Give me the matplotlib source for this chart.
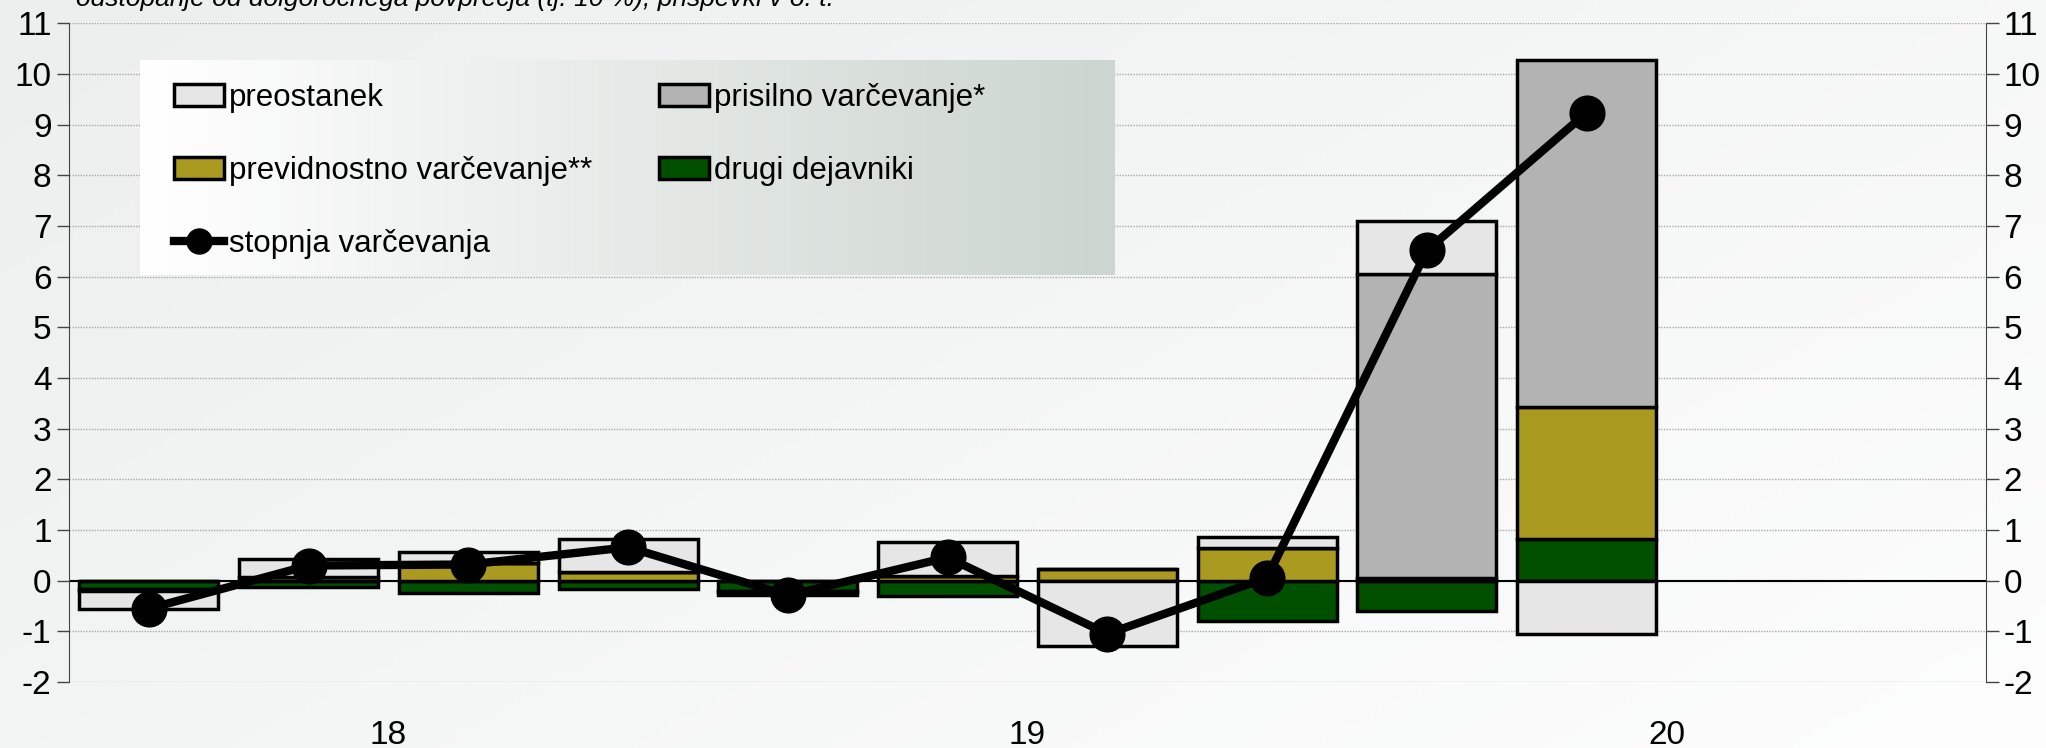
import matplotlib.pyplot as plt
import numpy as np
from matplotlib.colors import LinearSegmentedColormap
from matplotlib.lines import Line2D
from matplotlib.patches import Patch

plt.rcParams["font.family"] = ["Liberation Sans", "DejaVu Sans"]
plt.rcParams["axes.unicode_minus"] = False

# quarterly slots 2018Q1 .. 2020Q4, only first ten filled
slots = ["18Q1", "18Q2", "18Q3", "18Q4", "19Q1", "19Q2", "19Q3", "19Q4",
         "20Q1", "20Q2", "20Q3", "20Q4"]
years = ["18", "19", "20"]

drugi = [-0.17, -0.12, -0.25, -0.16, -0.20, -0.31, 0.0, -0.80, -0.60, 0.82]
previdnostno = [-0.03, 0.07, 0.34, 0.18, -0.03, 0.10, 0.23, 0.64, 0.05, 2.60]
prisilno = [0, 0, 0, 0, 0, 0, 0, 0, 6.00, 6.85]
preostanek = [-0.35, 0.35, 0.23, 0.64, -0.06, 0.67, -1.28, 0.22, 1.05, -1.05]
stopnja = [-0.55, 0.30, 0.32, 0.66, -0.29, 0.46, -1.05, 0.06, 6.52, 9.24]

title = "odstopanje od dolgoročnega povprečja (tj. 10 %), prispevki v o. t."

fig = plt.figure(figsize=(20.46, 7.48), dpi=100)

# background gradient over whole figure
bg = fig.add_axes([0, 0, 1, 1], zorder=-10)
gx, gy = np.meshgrid(np.linspace(0, 1, 300), np.linspace(0, 1, 120))
bg.imshow(gx * 0.6 + gy * 0.4, aspect="auto", extent=[0, 1, 0, 1],
          cmap=LinearSegmentedColormap.from_list("bg", ["#ecefee", "#fdfdfd"]))
bg.axis("off")

ax = fig.add_axes([0.0337, 0.0882, 0.937, 0.8804])
ax.set_facecolor("none")

x = np.arange(len(drugi))
series = [(drugi, "#005000"), (previdnostno, "#aa9a20"),
          (prisilno, "#b3b3b3"), (preostanek, "#e6e6e6")]
pos_base = np.zeros(len(x))
neg_base = np.zeros(len(x))
for vals, col in series:
    v = np.array(vals, dtype=float)
    bottom = np.where(v >= 0, pos_base, neg_base)
    ax.bar(x, v, bottom=bottom, width=0.87, color=col, edgecolor="black",
           linewidth=2.5, zorder=3)
    pos_base += np.clip(v, 0, None)
    neg_base += np.clip(v, None, 0)

ax.plot(x, stopnja, color="black", lw=6, marker="o", markersize=25, zorder=5)

ax.axhline(0, color="black", lw=1.5, zorder=2)
ax.set_xlim(-0.5, len(slots) - 0.5)
ax.set_ylim(-2, 11)
ax.set_yticks(range(-2, 12))
ax.yaxis.grid(True, linestyle=(0, (1, 1)), color="#a8a8a8", lw=1)
ax.set_axisbelow(True)
ax.set_xticks([1.5, 5.5, 9.5])
ax.set_xticklabels(years)
ax.tick_params(axis="x", length=0, pad=27, labelsize=24)
ax.tick_params(axis="y", direction="out", length=9, width=1, labelsize=24,
               right=True, labelright=True, color="#444444")
for s in ["top", "bottom"]:
    ax.spines[s].set_visible(False)
for s in ["left", "right"]:
    ax.spines[s].set_color("#444444")

# title sits half cut at the top edge, as in the source
fig.text(0.037, 1.002, title, style="italic", fontsize=19, va="center",
         ha="left")

# legend panel with its own gradient
lax = fig.add_axes([140 / 2046, 1 - 275 / 748, 975 / 2046, 215 / 748], zorder=5)
lgx = np.linspace(0, 1, 300)[None, :].repeat(10, axis=0)
lax.imshow(lgx, aspect="auto", extent=[0, 1, 0, 1],
           cmap=LinearSegmentedColormap.from_list("lg", ["#ffffff", "#ccd5d0"]))
lax.set_xlim(0, 1)
lax.set_ylim(0, 1)
lax.axis("off")

handles = [
    Patch(facecolor="#e6e6e6", edgecolor="black", lw=2.5),
    Patch(facecolor="#aa9a20", edgecolor="black", lw=2.5),
    Line2D([], [], color="black", lw=6, marker="o", markersize=18),
    Patch(facecolor="#b3b3b3", edgecolor="black", lw=2.5),
    Patch(facecolor="#005000", edgecolor="black", lw=2.5),
]
labels = ["preostanek", "previdnostno varčevanje**", "stopnja varčevanja",
          "prisilno varčevanje*", "drugi dejavniki"]
lax.legend(handles, labels, loc="upper left", bbox_to_anchor=(0.035, 0.895),
           ncol=2, frameon=False, fontsize=22.5, handlelength=1.6,
           handleheight=0.7, handletextpad=0.15, columnspacing=2.15,
           labelspacing=1.38, borderpad=0, borderaxespad=0)

fig.savefig("out.png", dpi=100)
